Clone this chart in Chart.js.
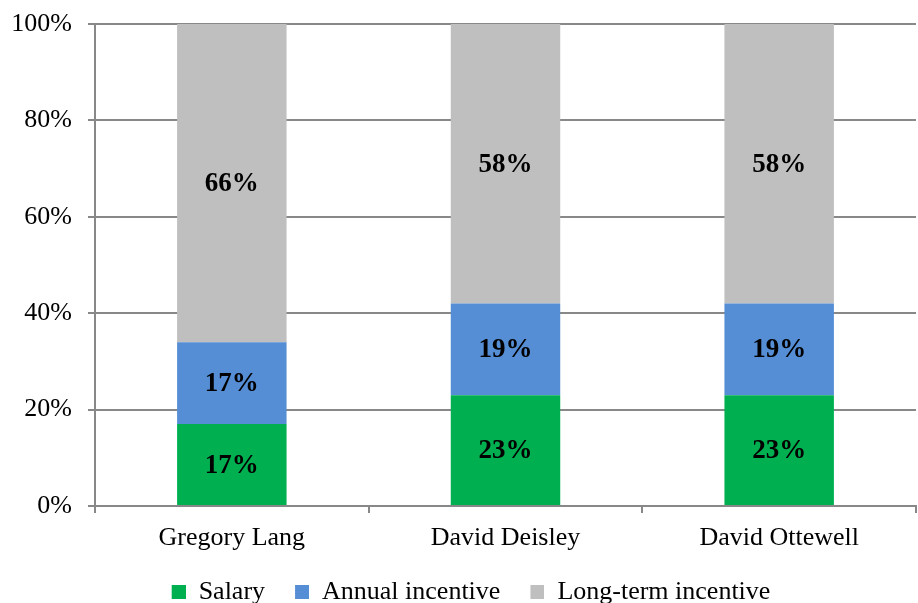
<!DOCTYPE html>
<html>
<head>
<meta charset="utf-8">
<script src="https://cdn.jsdelivr.net/npm/chart.js@4"></script>
<style>
  html, body { margin: 0; padding: 0; background: #fff; overflow: hidden; }
  #wrap { width: 918px; height: 615px; }
</style>
</head>
<body>
<div id="wrap"><canvas id="grafico"></canvas></div>
<script>
const categorias = ["Gregory Lang", "David Deisley", "David Ottewell"];
const salario = [17, 23, 23];
const incentivoAnual = [17, 19, 19];
const largoPlazo = [66, 58, 58];
const ticksY = ["0%", "20%", "40%", "60%", "80%", "100%"];

const serif = "'Liberation Serif', 'Times New Roman', serif";
const gris = "#888888";
const colores = ["#00B050", "#558ED5", "#BFBFBF"];

// cuadro de leyenda con espacio a la izquierda
function caja(color) {
    const c = document.createElement("canvas");
    c.width = 28;
    c.height = 14;
    const g = c.getContext("2d");
    g.fillStyle = color;
    g.fillRect(14, 0, 14, 14);
    return c;
}
const cajas = colores.map(caja);

// etiquetas dentro de cada segmento
const etiquetas = {
    id: "etiquetas",
    afterDatasetsDraw(chart) {
        const ctx = chart.ctx;
        ctx.save();
        ctx.font = "bold 27px " + serif;
        ctx.fillStyle = "#000";
        ctx.textAlign = "center";
        ctx.textBaseline = "middle";
        chart.data.datasets.forEach((ds, i) => {
            chart.getDatasetMeta(i).data.forEach((bar, j) => {
                const y = (bar.y + bar.base) / 2;
                ctx.fillText(ds.data[j] + "%", bar.x, y + 1);
            });
        });
        ctx.restore();
    }
};

new Chart(document.getElementById("grafico").getContext("2d"), {
    type: "bar",
    data: {
        labels: categorias,
        datasets: [
            { label: "Salary", data: salario, backgroundColor: colores[0] },
            { label: "Annual incentive", data: incentivoAnual, backgroundColor: colores[1] },
            { label: "Long-term incentive", data: largoPlazo, backgroundColor: colores[2] }
        ]
    },
    options: {
        responsive: true,
        maintainAspectRatio: false,
        animation: false,
        layout: { padding: { top: 8, right: 2, left: 12, bottom: 0 } },
        datasets: { bar: { barPercentage: 0.8, categoryPercentage: 0.5 } },
        scales: {
            x: {
                stacked: true,
                border: { color: gris, width: 2 },
                grid: { offset: true, drawOnChartArea: false, color: gris, lineWidth: 2, tickLength: 7 },
                ticks: { color: "#000", font: { family: serif, size: 26, lineHeight: 1.0 }, padding: 12 }
            },
            y: {
                stacked: true,
                min: 0,
                max: 100,
                border: { color: gris, width: 2 },
                grid: { color: gris, lineWidth: 2, tickLength: 7 },
                afterFit: (scale) => { scale.width = 83; },
                ticks: {
                    stepSize: 20,
                    color: "#000",
                    font: { family: serif, size: 26, lineHeight: 0.62 },
                    padding: 16,
                    callback: (v, i) => ticksY[i]
                }
            }
        },
        plugins: {
            legend: {
                position: "bottom",
                labels: {
                    color: "#000",
                    font: { family: serif, size: 26 },
                    usePointStyle: true,
                    pointStyleWidth: 28,
                    boxHeight: 14,
                    padding: 16,
                    generateLabels: (chart) =>
                        Chart.defaults.plugins.legend.labels.generateLabels(chart)
                            .map((it, i) => Object.assign(it, { pointStyle: cajas[i] }))
                }
            },
            tooltip: { enabled: false }
        }
    },
    plugins: [etiquetas]
});
</script>
</body>
</html>
